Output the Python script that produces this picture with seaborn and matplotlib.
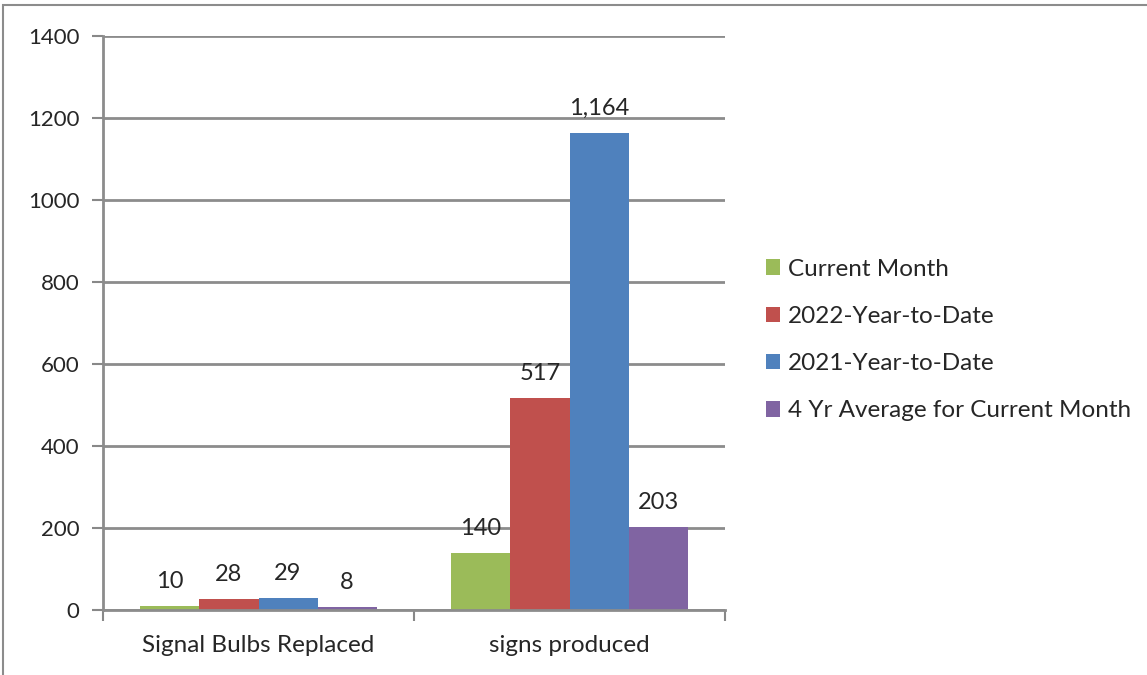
import matplotlib
matplotlib.use("Agg")
import matplotlib.pyplot as plt
import seaborn as sns
import pandas as pd
from matplotlib.patches import Rectangle

categories = ["Signal Bulbs Replaced", "signs produced"]
series_names = ["Current Month", "2022-Year-to-Date", "2021-Year-to-Date",
                "4 Yr Average for Current Month"]
current_month = [10, 140]
ytd_2022 = [28, 517]
ytd_2021 = [29, 1164]
avg_4yr = [8, 203]
y_ticks = [0, 200, 400, 600, 800, 1000, 1200, 1400]
colors = ["#9BBB59", "#C0504D", "#4F81BD", "#8064A2"]

rows = []
for name, vals in zip(series_names, [current_month, ytd_2022, ytd_2021, avg_4yr]):
    for c, v in zip(categories, vals):
        rows.append({"category": c, "series": name, "value": v})
df = pd.DataFrame(rows)

sns.set_theme(style="white")
plt.rcParams["font.family"] = ["Lato", "DejaVu Sans"]

fig = plt.figure(figsize=(11.47, 6.75), dpi=100)
ax = fig.add_axes([103/1147, 1-610/675, (725-103)/1147, (610-36)/675])

sns.barplot(data=df, x="category", y="value", hue="series", order=categories,
            hue_order=series_names, palette=colors, width=0.76, ax=ax,
            saturation=1, linewidth=0, legend=True)

ax.set_ylim(0, 1400)
ax.set_yticks(y_ticks)
ax.set_yticklabels([str(t) for t in y_ticks], fontsize=16)
ax.set_xlim(-0.5, 1.5)
ax.set_xlabel("")
ax.set_ylabel("")
ax.tick_params(axis="x", labelsize=17.5, length=0, pad=18)
ax.tick_params(axis="y", left=True, length=8, width=1.5, color="#888888", pad=9)

ax.set_xticks([-0.5, 0.5, 1.5], minor=True)
ax.tick_params(axis="x", which="minor", bottom=True, length=8, width=1.5, color="#888888")

ax.grid(axis="y", color="#8c8c8c", linewidth=2)
ax.set_axisbelow(True)
for s in ["top", "right"]:
    ax.spines[s].set_visible(False)
for s in ["left", "bottom"]:
    ax.spines[s].set_color("#8c8c8c")
    ax.spines[s].set_linewidth(2)

for cont in ax.containers:
    labels = [f"{int(v):,}" for v in cont.datavalues]
    ax.bar_label(cont, labels=labels, padding=10, fontsize=17)

handles, labs = ax.get_legend_handles_labels()
ax.legend(handles, labs, loc="center left", bbox_to_anchor=(744/1147, 1-340/675),
          bbox_transform=fig.transFigure, frameon=False, fontsize=17.5,
          handlelength=0.6, handleheight=0.6, handletextpad=0.3, labelspacing=1.08)

fig.patches.append(Rectangle((3/1147, -0.1), 1.2, 1-5/675+0.1, transform=fig.transFigure,
                             fill=False, edgecolor="#8c8c8c", linewidth=1.5))

fig.savefig("out.png", dpi=100)
